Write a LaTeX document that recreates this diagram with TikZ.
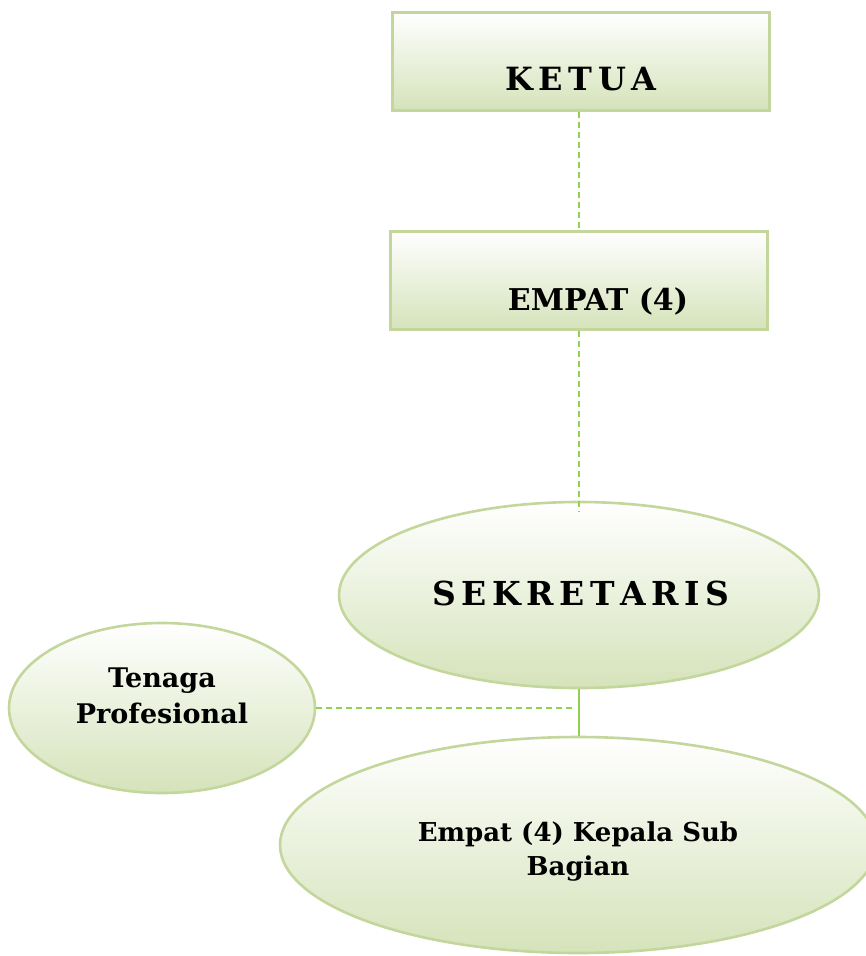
\documentclass[tikz,border=0pt]{standalone}
\usepackage{fontspec}
\setmainfont{DejaVu Serif}
\usetikzlibrary{shapes.geometric}
\definecolor{olivelight}{RGB}{195,214,155}
\definecolor{olivefill}{RGB}{213,227,186}
\definecolor{linkgreen}{RGB}{146,208,80}
\newcommand{\spaced}[1]{{\spaceskip=0.17em\relax #1}}
\tikzset{
  unitbox/.style={draw=olivelight, line width=3pt, top color=white, bottom color=olivefill, minimum width=377pt, minimum height=98pt, inner sep=0pt},
  unitoval/.style={ellipse, draw=olivelight, line width=2.6pt, top color=white, bottom color=olivefill, inner sep=0pt},
  unittext/.style={font=\bfseries\fontsize{30}{36}\selectfont, align=center, inner sep=0pt},
  dashlink/.style={linkgreen, line width=1.8pt, dash pattern=on 6pt off 4pt},
  solidlink/.style={linkgreen, line width=2.6pt}
}
\begin{document}
\begin{tikzpicture}[x=1pt, y=-1pt]
\useasboundingbox (0,0) rectangle (866,956);

\node[unitbox] (ketua) at (580.5, 61) {};
\node[unitbox] (empat) at (578.5, 280.5) {};
\node[unitoval, minimum width=480pt, minimum height=186pt] (sekretaris) at (579, 595) {};
\node[unitoval, minimum width=306pt, minimum height=170pt] (tenaga) at (162, 708) {};
\node[unitoval, minimum width=596pt, minimum height=216pt] (kepala) at (578, 845) {};

\node[unittext, font=\bfseries\fontsize{32}{36}\selectfont] (ketuatext) at (581, 79) {\spaced{K E T U A}};
\node[unittext] (empattext) at (598, 301) {EMPAT (4)};
\node[unittext, font=\bfseries\fontsize{33}{36}\selectfont] (sekretaristext) at (581, 593) {\spaced{S E K R E T A R I S}};
\node[unittext, font=\bfseries\fontsize{27}{36}\selectfont] (tenagatext) at (162, 696) {Tenaga\\Profesional};
\node[unittext, font=\bfseries\fontsize{26}{34}\selectfont] (kepalatext) at (578, 851) {Empat (4) Kepala Sub\\Bagian};

\coordinate (junction) at (sekretaris.south |- tenaga.east);

\draw[dashlink] (ketua.south -| 579,0) -- (empat.north -| 579,0);
\draw[dashlink] (empat.south -| 579,0) -- ([yshift=-11pt]sekretaris.north);
\draw[solidlink] (sekretaris.south) -- (sekretaris.south |- kepala.north);
\draw[dashlink] (tenaga.east) -- ([xshift=-4pt]junction);

\end{tikzpicture}
\end{document}
